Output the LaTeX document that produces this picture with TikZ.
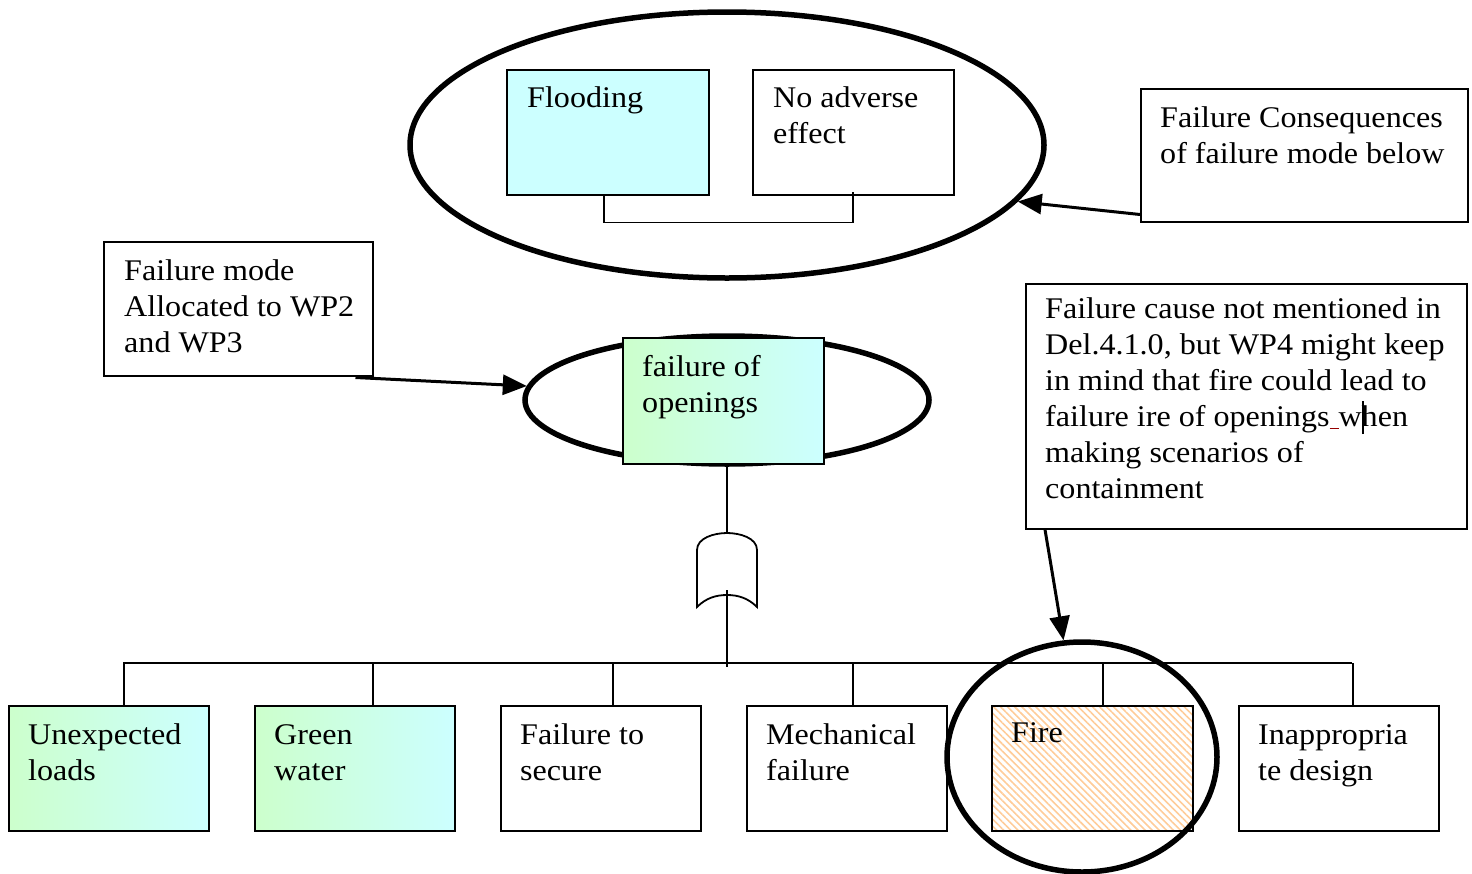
\documentclass[tikz,border=0pt]{standalone}
\usepackage{fontspec}
\setmainfont[FakeStretch=1.07]{Liberation Serif}
\usetikzlibrary{shapes.geometric,arrows.meta,patterns.meta,calc}
\definecolor{floodcyan}{RGB}{204,255,255}
\definecolor{leafgreen}{RGB}{204,255,204}
\definecolor{hatchorange}{RGB}{255,204,153}
\definecolor{markred}{RGB}{150,0,0}
% text block whose baseline is that of its first line
\newcommand{\lines}[1]{\begin{tabular}[t]{@{}l@{}}#1\end{tabular}}
\tikzset{
  box/.style={draw, line width=1.5pt, rectangle, inner sep=0pt, anchor=north west},
  gradbox/.style={box, shading=axis, left color=leafgreen, right color=floodcyan, shading angle=90},
  ring/.style={draw, line width=5.5pt, ellipse, inner sep=0pt},
  txt/.style={anchor=base west, inner sep=0pt, font=\fontsize{30}{36}\selectfont},
  wire/.style={line width=1.8pt},
  pointer/.style={line width=3pt, -{Triangle[length=24pt,width=20pt]}},
}
\begin{document}
\begin{tikzpicture}[x=1pt,y=-1pt]
\useasboundingbox (0,0) rectangle (1472,873);

% consequences ring
\node[ring, minimum width=634pt, minimum height=266pt] (top) at (727,145) {};
\node[box, fill=floodcyan, minimum width=202pt, minimum height=125pt] (flood) at (506,69) {};
\node[box, minimum width=201pt, minimum height=125pt] (noeff) at (752,69) {};
\node[txt] at ($(flood.north west)+(21,38)$) {\lines{Flooding}};
\node[txt] at ($(noeff.north west)+(21,38)$) {\lines{No adverse\\effect}};
\draw[wire] ($(flood.south)+(-4,0)$) -- ++(0,27) -| ($(noeff.south)+(0,-4)$);

% note on consequences
\node[box, minimum width=327pt, minimum height=133pt] (cons) at (1140,88) {};
\node[txt] at ($(cons.north west)+(20,39)$) {\lines{Failure Consequences\\of failure mode below}};
\draw[pointer] ($(cons.south west)+(0,-8)$) -- (top.-11);

% note on failure mode
\node[box, minimum width=269pt, minimum height=134pt] (mode) at (103,241) {};
\node[txt] at ($(mode.north west)+(21,39)$) {\lines{Failure mode\\Allocated to WP2\\and WP3}};

% top event ring
\node[ring, minimum width=404pt, minimum height=128pt] (mid) at (727,400) {};
\node[gradbox, minimum width=201pt, minimum height=126pt] (open) at (622,337) {};
\node[txt] at ($(open.north west)+(20,39)$) {\lines{failure of\\openings}};
\draw[pointer] ($(mode.south east)+(-18,1)$) -- (mid.176);

% OR gate
\coordinate (gtop) at (727,533);
\coordinate (gin) at (727,590);
\draw[wire] (open.south -| gtop) -- (gtop);
\draw[wire] (697,607) -- (697,550) .. controls (697,538) and (714,533) .. (gtop)
  .. controls (740,533) and (757,538) .. (757,550) -- (757,607)
  .. controls (748,598) and (738,595) .. (727,595)
  .. controls (716,595) and (706,598) .. (697,607) -- cycle;
\coordinate (bus) at (727,667);
\draw[wire] (gin) -- (bus);
\draw[wire] (123,663) -- (1352,663);

% basic events
\node[gradbox, minimum width=200pt, minimum height=125pt] (loads) at (8,705) {};
\node[gradbox, minimum width=200pt, minimum height=125pt] (green) at (254,705) {};
\node[box, minimum width=200pt, minimum height=125pt] (secure) at (500,705) {};
\node[box, minimum width=200pt, minimum height=125pt] (mech) at (746,705) {};
\node[box, pattern={Lines[angle=-45,distance=5pt,line width=1.6pt]}, pattern color=hatchorange, minimum width=201pt, minimum height=125pt] (fire) at (991,705) {};
\node[box, minimum width=200pt, minimum height=125pt] (design) at (1238,705) {};
\node[txt] at ($(loads.north west)+(20,39)$) {\lines{Unexpected\\loads}};
\node[txt] at ($(green.north west)+(20,39)$) {\lines{Green\\water}};
\node[txt] at ($(secure.north west)+(20,39)$) {\lines{Failure to\\secure}};
\node[txt] at ($(mech.north west)+(20,39)$) {\lines{Mechanical\\failure}};
\node[txt] at ($(fire.north west)+(20,37)$) {\lines{Fire}};
\node[txt] at ($(design.north west)+(20,39)$) {\lines{Inappropria\\te design}};
\foreach \b/\dx in {loads/15,green/18,secure/12,mech/6,fire/11,design/14}
  \draw[wire] ($(\b.north)+(\dx,0)$) -- ++(0,-42);

% ring round the fire event
\node[ring, minimum width=270pt, minimum height=230pt] (firering) at (1082,757) {};

% note on the fire cause
\node[box, minimum width=441pt, minimum height=245pt] (cause) at (1025,283) {};
\node[txt] at ($(cause.north west)+(20,35)$) {\lines{Failure cause not mentioned in\\Del.4.1.0, but WP4 might keep\\in mind that fire could lead to\\failure ire of openings{\color{markred}\rule[-3pt]{9pt}{1.5pt}}w\rlap{\kern0.5pt\rule[-8pt]{2pt}{33pt}}hen\\making scenarios of\\containment}};
\draw[pointer] ($(cause.south west)+(20,0)$) -- (firering.99);
\end{tikzpicture}
\end{document}
